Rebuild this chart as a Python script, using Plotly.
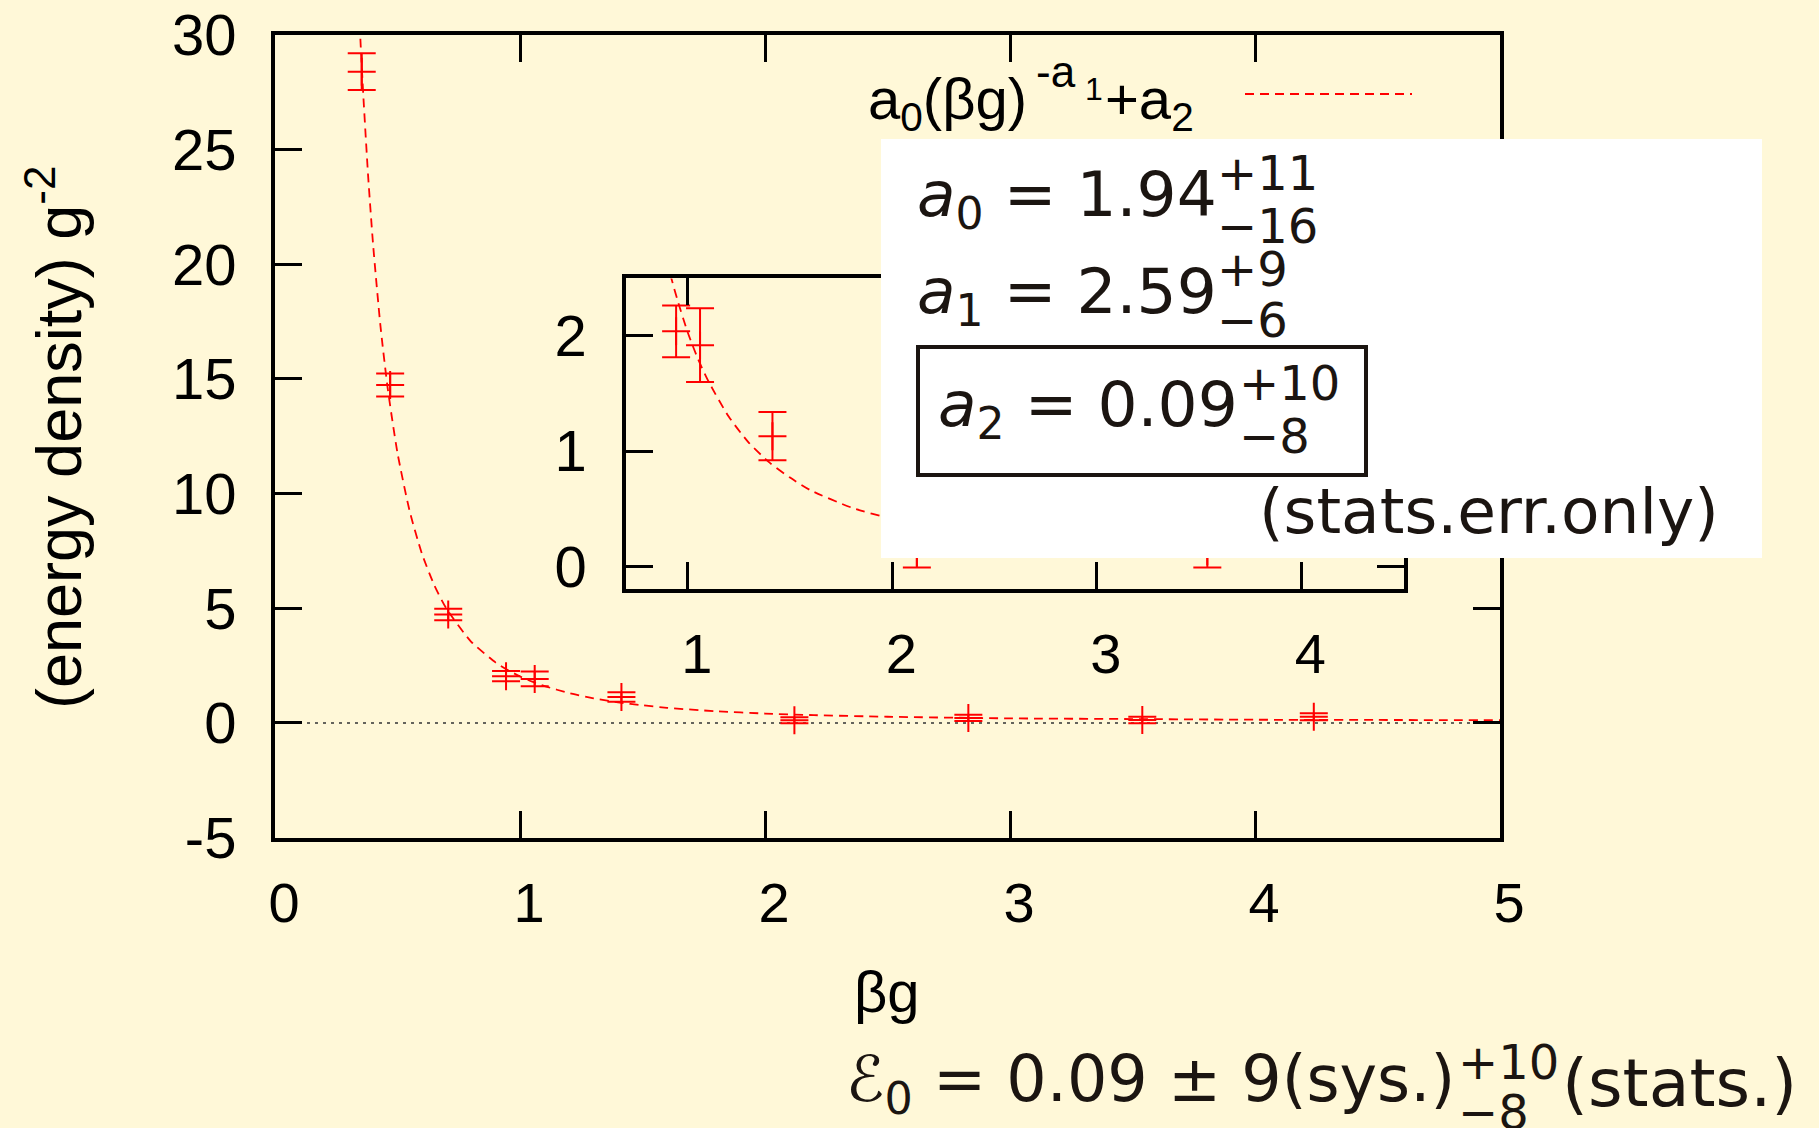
import plotly.graph_objects as go

W, H = 1819, 1128

# ---------------- data ----------------
beta_g = [0.354, 0.47, 0.707, 0.943, 1.06, 1.414, 2.12, 2.83, 3.54, 4.24]
energy = [28.4, 14.74, 4.73, 2.04, 1.92, 1.13, 0.12, 0.22, 0.13, 0.27]
energy_err = [0.8, 0.5, 0.25, 0.225, 0.32, 0.21, 0.13, 0.14, 0.14, 0.15]

fit_x = [0.34, 0.35, 0.36, 0.38, 0.40, 0.43, 0.46, 0.50, 0.55, 0.60, 0.65, 0.70,
         0.80, 0.90, 0.92, 0.95, 1.00, 1.05, 1.10, 1.20, 1.30, 1.40, 1.50, 1.60,
         1.80, 2.00, 2.20, 2.50, 3.00, 3.50, 4.00, 4.50, 5.00]
fit_y = [31.8, 29.5, 27.45, 23.87, 20.91, 17.36, 14.59, 11.77, 9.22, 7.37, 6.01, 4.98,
         3.55, 2.64, 2.50, 2.31, 2.03, 1.80, 1.61, 1.30, 1.07, 0.90, 0.77, 0.66,
         0.51, 0.41, 0.34, 0.27, 0.20, 0.17, 0.14, 0.13, 0.12]

x_ticks = [0, 1, 2, 3, 4, 5]
y_ticks = [-5, 0, 5, 10, 15, 20, 25, 30]
inset_x_ticks = [1, 2, 3, 4]
inset_y_ticks = [0, 1, 2]

main_x_range = [0, 5]
main_y_range = [-5, 30]
inset_x_range = [0.7, 4.5]
inset_y_range = [-0.2, 2.5]

# ---------------- styling ----------------
BG = "#FFF8D8"
RED = "#FF0000"
TXT = "#1b1511"
HELV = "Liberation Sans, Arial, sans-serif"
DJV = "DejaVu Sans, sans-serif"


def px(x):
    return x / W


def py(y):
    return 1 - y / H


fig = go.Figure()

curve_line = dict(color=RED, width=1.8, dash="9px,6px", shape="spline", smoothing=0.6)
point_marker = dict(symbol="cross-thin", size=20, line=dict(color=RED, width=2), color=RED)
err = dict(type="data", array=energy_err, color=RED, thickness=2, width=14)

for xa, ya in (("x", "y"), ("x2", "y2")):
    fig.add_trace(go.Scatter(x=fit_x, y=fit_y, mode="lines", line=curve_line,
                             xaxis=xa, yaxis=ya, hoverinfo="skip"))
    fig.add_trace(go.Scatter(x=beta_g, y=energy, mode="markers", marker=point_marker,
                             error_y=err, xaxis=xa, yaxis=ya))

axis_common = dict(showline=True, linecolor="black", linewidth=4, mirror="allticks",
                   ticks="inside", ticklen=27, tickwidth=3, tickcolor="black",
                   showgrid=False, zeroline=False, tickmode="array", automargin=False)
xfont = dict(family=HELV, size=56, color="black")
yfont = dict(family=HELV, size=58, color="black")

fig.update_layout(
    width=W, height=H,
    margin=dict(l=0, r=0, t=0, b=0, pad=0, autoexpand=False),
    paper_bgcolor=BG, plot_bgcolor=BG,
    showlegend=False,
    xaxis=dict(axis_common, domain=[px(275), px(1500)], range=main_x_range,
               tickvals=x_ticks, ticktext=[str(v) for v in x_ticks], anchor="y",
               tickfont=xfont, ticklabelstandoff=13, ticklabelshift=9),
    yaxis=dict(axis_common, domain=[py(837.6), py(35)], range=main_y_range,
               tickvals=y_ticks, ticktext=[str(v) for v in y_ticks], anchor="x",
               tickfont=yfont, ticklabelstandoff=23),
    xaxis2=dict(axis_common, domain=[px(626.4), px(1403.7)], range=inset_x_range,
                tickvals=inset_x_ticks, ticktext=[str(v) for v in inset_x_ticks],
                anchor="y2", tickfont=xfont, ticklabelstandoff=12, ticklabelshift=9),
    yaxis2=dict(axis_common, domain=[py(589.3), py(278.4)], range=inset_y_range,
                tickvals=inset_y_ticks, ticktext=[str(v) for v in inset_y_ticks],
                anchor="x2", tickfont=yfont, ticklabelstandoff=24),
)

shapes = [
    # zero lines (dotted)
    dict(type="line", xref="x domain", yref="y", x0=0, x1=1, y0=0, y1=0,
         line=dict(color="#333333", width=1.6, dash="3px,5px"), layer="below"),
    dict(type="line", xref="x2 domain", yref="y2", x0=0, x1=1, y0=0, y1=0,
         line=dict(color="#333333", width=1.6, dash="3px,5px"), layer="below"),
    # legend sample
    dict(type="line", xref="paper", yref="paper", x0=px(1245), x1=px(1412),
         y0=py(94), y1=py(94), line=dict(color=RED, width=1.8, dash="9px,6px")),
    # white box with fit results
    dict(type="rect", xref="paper", yref="paper", x0=px(881), x1=px(1762),
         y0=py(558), y1=py(139), fillcolor="white", line=dict(width=0), layer="above"),
    # frame round a2
    dict(type="rect", xref="paper", yref="paper", x0=px(918), x1=px(1366),
         y0=py(475), y1=py(347), fillcolor="rgba(0,0,0,0)",
         line=dict(color=TXT, width=4), layer="above"),
]
fig.update_layout(shapes=shapes)

ann = []


def text(t, x, y, size, family=DJV, color=TXT, xanchor="left", yanchor="middle", angle=0):
    ann.append(dict(text=t, x=px(x), y=py(y), xref="paper", yref="paper",
                    xanchor=xanchor, yanchor=yanchor, showarrow=False, textangle=angle,
                    font=dict(family=family, size=size, color=color)))


def text_base(t, x, baseline, size, family=HELV, color="black"):
    # place by baseline: box top = baseline - ascent (Liberation Sans 0.905 em)
    text(t, x, baseline - 0.905 * size - 1, size, family=family, color=color, yanchor="top")


# axis titles
text("(energy density) g<sup>-2</sup>", 54, 438, 63, family=HELV, color="black",
     xanchor="center", angle=-90)
text("βg", 887, 991, 58, family=HELV, color="black", xanchor="center")

# legend label a0(βg)^(-a1)+a2
text_base("a<sub>0</sub>(βg)", 866, 117, 58)
text_base("-a", 1034, 86, 44)
text_base("1", 1083, 99, 32)
text_base("+a<sub>2</sub>", 1103, 117, 58)

# fit results (main values + stacked errors)
F, f = 63, 48
text("<i>a</i><sub>0</sub> = 1.94", 915, 199, F)
text("+11", 1215, 173, f)
text("−16", 1215, 226, f)
text("<i>a</i><sub>1</sub> = 2.59", 915, 295, F)
text("+9", 1215, 269, f)
text("−6", 1215, 320, f)
text("<i>a</i><sub>2</sub> = 0.09", 936, 409, F)
text("+10", 1237, 383, f)
text("−8", 1237, 436, f)
text("(stats.err.only)", 1257, 511, 63)

# bottom result line
text("ℰ<sub>0</sub> = 0.09 ± 9(sys.)", 844, 1083, 63.5)
text("+10", 1456, 1062, 48)
text("−8", 1456, 1112, 48)
text("(stats.)", 1560, 1083, 66.5)

fig.update_layout(annotations=ann)

fig.write_html("out.html")
